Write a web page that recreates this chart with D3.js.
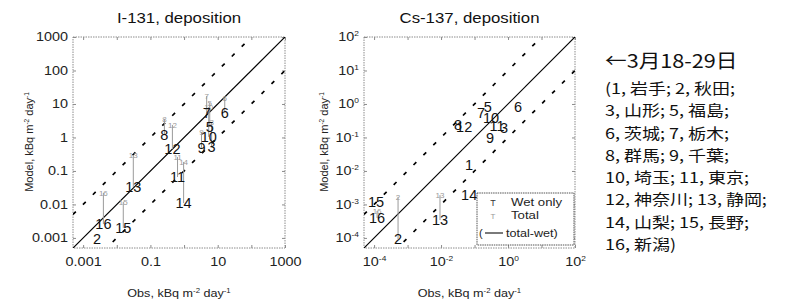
<!DOCTYPE html>
<html>
<head>
<meta charset="utf-8">
<script src="https://cdn.jsdelivr.net/npm/d3@7"></script>
<style>
  body { margin: 0; background: #fff; }
  text { font-family: "Liberation Sans", Arial, sans-serif; }
</style>
</head>
<body>
<svg id="chart" width="785" height="303"></svg>
<script>
// ---- I-131 panel (obs vs model, wet-only and total) ----
const i131Ids   = ["2", "16", "15", "13", "12", "8", "11", "14", "6", "10", "9", "3", "5", "7"];
const i131Obs   = [0.0026, 0.004, 0.0156, 0.031, 0.45, 0.26, 0.64, 0.97, 16.2, 5.4, 3.3, 6.6, 5.8, 4.7];
const i131Wet   = [0.00093, 0.0026, 0.002, 0.033, 0.45, 1.19, 0.066, 0.011, 5.4, 1.04, 0.49, 0.52, 2.06, 5.4];
const i131Total = [null, 0.022, 0.0119, 0.30, 2.36, 3.6, 0.26, 0.186, 15.1, 8.1, 1.46, 2.9, 10.7, 17.3];

// ---- Cs-137 panel ----
const csIds   = ["15", "16", "2", "13", "14", "1", "9", "6", "12", "8", "7", "5", "10", "11", "3"];
const csObs   = [1.15e-4, 1.23e-4, 5.2e-4, 9.3e-3, 0.069, 0.069, 0.29, 1.99, 0.049, 0.032, 0.156, 0.25, 0.31, 0.47, 0.76];
const csWet   = [1.19e-3, 3.95e-4, 9.3e-5, 3.4e-4, 1.9e-3, 0.0151, 0.097, 0.81, 0.21, 0.236, 0.54, 0.81, 0.38, 0.22, 0.19];
const csTotal = [null, 6.4e-4, 1.68e-3, 1.9e-3, null, null, null, null, null, null, null, null, null, null, null];

// ---- ticks ----
const i131Ticks      = [0.001, 0.01, 0.1, 1, 10, 100, 1000];
const i131TickLabels = ["0.001", "0.01", "0.1", "1", "10", "100", "1000"];
const i131XLabeled   = [0.001, 0.1, 10, 1000];
const csTicks        = [1e-4, 1e-3, 1e-2, 1e-1, 1, 10, 100];
const csTickExps     = ["-4", "-3", "-2", "-1", "0", "1", "2"];
const csXLabeled     = [1e-4, 1e-2, 1, 100];

// ---- side note ----
const noteTitle = "←3月18-29日";
const noteLines = [
  "(1, 岩手; 2, 秋田;",
  "3, 山形; 5, 福島;",
  "6, 茨城; 7, 栃木;",
  "8, 群馬; 9, 千葉;",
  "10, 埼玉; 11, 東京;",
  "12, 神奈川; 13, 静岡;",
  "14, 山梨; 15, 長野;",
  "16, 新潟)"
];

const svg = d3.select("#chart");
const frameColor = "#8c8c8c";
const SX = 1.2; // scanned text looks wider than tall

// text stretched horizontally about its anchor point
function wideText(parent, x, y, size, rotate) {
  const r = rotate ? ` rotate(${rotate})` : "";
  return parent.append("text")
    .attr("transform", `translate(${x},${y})${r} scale(${SX},1)`)
    .attr("font-size", size).attr("fill", "#222");
}

function supLabel(sel, parts) {
  sel.append("tspan").text(parts[0]);
  sel.append("tspan").attr("dy", -4).attr("font-size", 6.5).text(parts[1]);
  sel.append("tspan").attr("dy", 4).text(parts[2]);
  sel.append("tspan").attr("dy", -4).attr("font-size", 6.5).text(parts[3]);
}

function drawPanel(p) {
  const x = d3.scaleLog().domain(p.domain).range([p.left, p.right]);
  const y = d3.scaleLog().domain(p.domain).range([248, 37]);
  const g = svg.append("g");

  g.append("clipPath").attr("id", p.id + "-clip")
    .append("rect")
    .attr("x", p.left).attr("y", 37)
    .attr("width", p.right - p.left).attr("height", 211);

  // axes, ticks pointing inward
  const ax = [
    d3.axisBottom(x).tickValues(p.ticks).tickSize(-3).tickPadding(9)
      .tickFormat(d => p.xLabeled.some(v => Math.abs(v - d) / d < 1e-6) ? d : ""),
    d3.axisLeft(y).tickValues(p.ticks).tickSize(-3).tickPadding(5).tickFormat(d => d),
    d3.axisTop(x).tickValues(p.ticks).tickSize(-3).tickFormat(""),
    d3.axisRight(y).tickValues(p.ticks).tickSize(-3).tickFormat("")
  ];
  const pos = [
    `translate(0,248)`, `translate(${p.left},0)`,
    `translate(0,37)`, `translate(${p.right},0)`
  ];
  ax.forEach((a, i) => {
    const ag = g.append("g").attr("transform", pos[i]).call(a);
    ag.select(".domain").remove();
    ag.selectAll(".tick line").attr("stroke", frameColor);
    ag.selectAll(".tick text")
      .attr("font-size", 12)
      .attr("fill", "#222")
      .each(function (d) {
        const t = d3.select(this);
        if (t.text() === "") return;
        t.attr("x", (+t.attr("x") || 0) / SX).attr("transform", `scale(${SX},1)`);
        p.fmt(t, d);
      });
  });

  // frame
  g.append("rect")
    .attr("x", p.left).attr("y", 37)
    .attr("width", p.right - p.left).attr("height", 211)
    .attr("fill", "none")
    .attr("stroke", frameColor)
    .attr("stroke-dasharray", "1.5,1");

  // 1:1 and factor-10 lines
  const lines = g.append("g").attr("clip-path", `url(#${p.id}-clip)`);
  const [d0, d1] = p.domain;
  [[1, null], [10, "4,10"], [0.1, "4,10"]].forEach(([f, dash]) => {
    lines.append("line")
      .attr("x1", x(d0)).attr("y1", y(d0 * f))
      .attr("x2", x(d1)).attr("y2", y(d1 * f))
      .attr("stroke", "#000")
      .attr("stroke-width", dash ? 1.7 : 1.2)
      .attr("stroke-dasharray", dash);
  });

  // station marks: total-wet connector, total (grey) and wet-only (black)
  const pts = p.ids.map((id, i) => ({ id, obs: p.obs[i], wet: p.wet[i], total: p.total[i] }));
  const marks = g.append("g");
  marks.selectAll("line.tw").data(pts.filter(d => d.total != null)).join("line")
    .attr("class", "tw")
    .attr("x1", d => x(d.obs)).attr("x2", d => x(d.obs))
    .attr("y1", d => y(d.wet)).attr("y2", d => y(d.total))
    .attr("stroke", "#9a9a9a").attr("stroke-width", 1);
  marks.selectAll("text.tot").data(pts.filter(d => d.total != null)).join("text")
    .attr("class", "tot")
    .attr("x", d => x(d.obs)).attr("y", d => y(d.total))
    .attr("text-anchor", "middle").attr("dy", "0.35em")
    .attr("font-size", 8).attr("fill", "#9a9a9a")
    .text(d => d.id);
  marks.selectAll("text.wet").data(pts).join("text")
    .attr("class", "wet")
    .attr("x", d => x(d.obs)).attr("y", d => y(d.wet))
    .attr("text-anchor", "middle").attr("dy", "0.36em")
    .attr("font-size", 14.5).attr("fill", "#111")
    .text(d => d.id);

  // titles and axis labels
  const cx = (p.left + p.right) / 2;
  wideText(g, cx, 23, 14, 0).attr("text-anchor", "middle").attr("fill", "#111").text(p.title);
  supLabel(wideText(g, cx, 297, 10.5, 0).attr("text-anchor", "middle"),
    ["Obs, kBq m", "-2", " day", "-1"]);
  supLabel(g.append("text")
    .attr("transform", `translate(${p.ylabX},142) rotate(-90)`)
    .attr("text-anchor", "middle").attr("font-size", 11).attr("fill", "#222"),
    ["Model, kBq m", "-2", " day", "-1"]);

  return g;
}

drawPanel({
  id: "i131", title: "I-131, deposition", left: 73, right: 285, ylabX: 33,
  domain: [5e-4, 1000], ticks: i131Ticks, xLabeled: i131XLabeled,
  ids: i131Ids, obs: i131Obs, wet: i131Wet, total: i131Total,
  fmt: (t, d) => t.text(i131TickLabels[i131Ticks.indexOf(d)])
});

const csG = drawPanel({
  id: "cs137", title: "Cs-137, deposition", left: 364, right: 575, ylabX: 328,
  domain: [5e-5, 100], ticks: csTicks, xLabeled: csXLabeled,
  ids: csIds, obs: csObs, wet: csWet, total: csTotal,
  fmt: (t, d) => {
    const e = csTickExps[csTicks.indexOf(d)];
    t.text("");
    t.append("tspan").text("10");
    t.append("tspan").attr("dy", -5).attr("font-size", 7).text(e);
  }
});

// legend (Cs-137 panel)
const lg = csG.append("g");
lg.append("rect").attr("x", 477).attr("y", 193).attr("width", 97).attr("height", 52)
  .attr("fill", "#fff").attr("stroke", "#555").attr("stroke-dasharray", "1.5,0.8");
lg.append("text").attr("x", 493).attr("y", 206).attr("text-anchor", "middle")
  .attr("font-size", 9).attr("fill", "#333").text("T");
lg.append("text").attr("x", 493).attr("y", 219).attr("text-anchor", "middle")
  .attr("font-size", 8).attr("fill", "#999").text("T");
wideText(lg, 511, 206, 11, 0).text("Wet only");
wideText(lg, 511, 219, 11, 0).text("Total");
lg.append("text").attr("x", 479).attr("y", 237).attr("font-size", 11).attr("fill", "#222").text("(");
lg.append("line").attr("x1", 485).attr("x2", 503).attr("y1", 233).attr("y2", 233)
  .attr("stroke", "#222").attr("stroke-width", 1.2);
wideText(lg, 506, 237, 10.5, 0).text("total-wet)");

// side note
const cjk = '"Noto Sans CJK JP", sans-serif';
svg.append("g").attr("transform", "translate(605,0) scale(1.14,1)")
  .append("text").attr("x", 0).attr("y", 68)
  .attr("font-size", 19).attr("fill", "#111")
  .style("font-family", cjk)
  .text(noteTitle);
svg.append("g").attr("transform", "translate(605,0) scale(1.2,1)")
  .selectAll("text.ln").data(noteLines).join("text")
  .attr("class", "ln")
  .attr("x", 0).attr("y", (d, i) => 94 + i * 22.3)
  .attr("font-size", 15).attr("fill", "#111")
  .style("font-family", cjk)
  .text(d => d);
</script>
</body>
</html>
